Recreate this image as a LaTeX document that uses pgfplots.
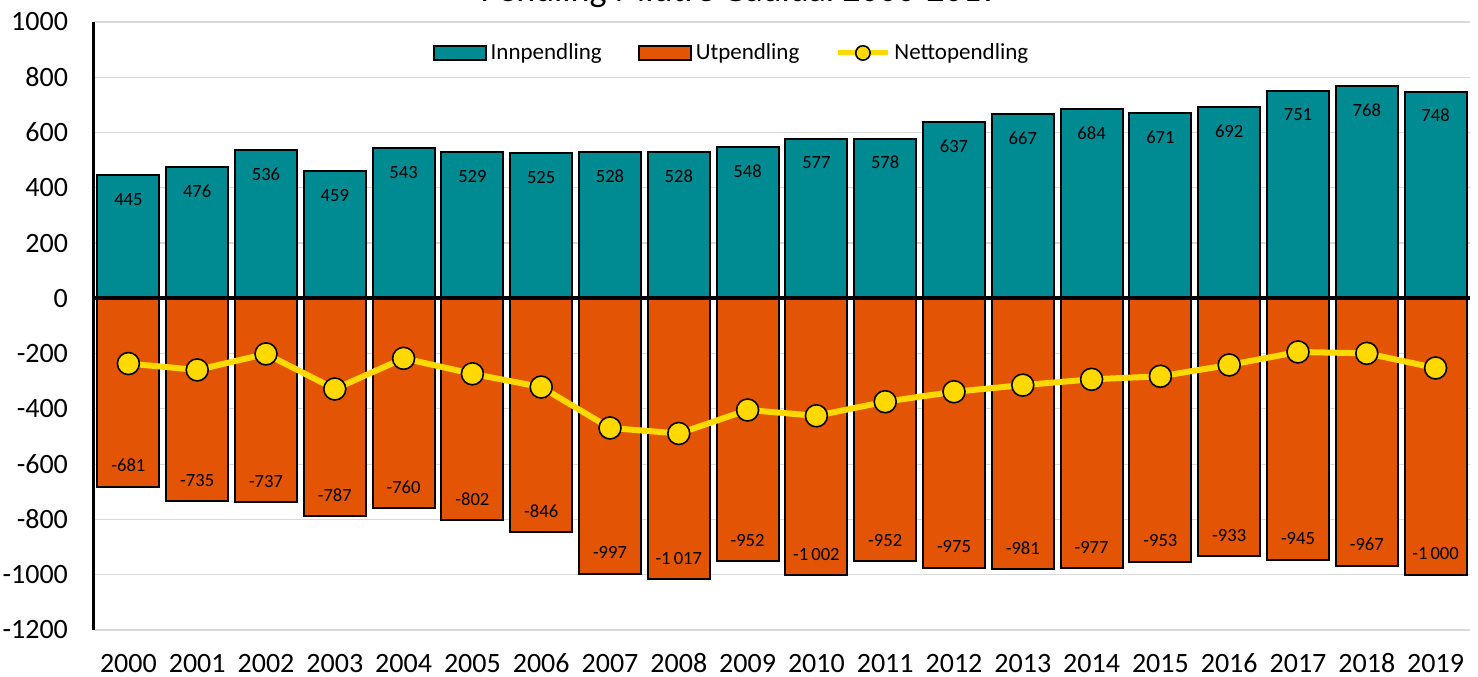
\documentclass[border=0pt]{standalone}
\usepackage{fontspec}
\setmainfont{Carlito}
\usepackage{pgfplots}
\pgfplotsset{compat=1.18}
\usetikzlibrary{calc}
\definecolor{innteal}{RGB}{0,138,145}
\definecolor{utorange}{RGB}{228,84,5}
\definecolor{nettoyellow}{RGB}{255,217,0}
\definecolor{gridgray}{RGB}{217,217,217}

\pgfplotstableread{
x inn ut netto
0 445 -681 -236
1 476 -735 -259
2 536 -737 -201
3 459 -787 -328
4 543 -760 -217
5 529 -802 -273
6 525 -846 -321
7 528 -997 -469
8 528 -1017 -489
9 548 -952 -404
10 577 -1002 -425
11 578 -952 -374
12 637 -975 -338
13 667 -981 -314
14 684 -977 -293
15 671 -953 -282
16 692 -933 -241
17 751 -945 -194
18 768 -967 -199
19 748 -1000 -252
}\pendling

\begin{document}
\begin{tikzpicture}
\begin{axis}[
  name=ax,
  scale only axis,
  width=688pt, height=304pt,
  xmin=-0.5, xmax=19.5,
  ymin=-1200, ymax=1000,
  ytick={-1200,-1000,...,1000},
  xtick=data,
  xticklabels={2000,2001,2002,2003,2004,2005,2006,2007,2008,2009,2010,2011,2012,2013,2014,2015,2016,2017,2018,2019},
  major tick length=0pt,
  separate axis lines,
  axis y line*=left,
  axis x line*=bottom,
  x axis line style={draw=none},
  y axis line style={black, line width=1.5pt, -},
  ymajorgrids, grid style={gridgray, line width=0.6pt},
  ticklabel style={font=\fontsize{14}{16}\selectfont},
  xticklabel style={yshift=-8pt, text height=9.5pt, text depth=0pt},
  yticklabel style={xshift=-9.5pt, /pgf/number format/1000 sep={}},
  /pgf/number format/assume math mode=true,
  /pgf/number format/1000 sep={\,},
  ybar, bar width=0.9,
  legend style={draw=none, fill=none, at={(0.464,0.949)}, anchor=center,
    font=\fontsize{11.5}{13}\selectfont, legend columns=3,
    /tikz/every even column/.append style={column sep=16pt}},
  legend cell align=left,
]
\addplot[bar shift=0pt, fill=innteal, draw=black, line width=1pt,
  nodes near coords,
  every node near coord/.style={anchor=center, yshift=-12pt, font=\fontsize{9.3}{11}\selectfont, black},
  legend image code/.code={\draw[fill=innteal, draw=black, line width=1pt] (0pt,-3.5pt) rectangle (26pt,3.5pt);}]
  table[x=x, y=inn] {\pendling};
\addlegendentry{Innpendling}
\addplot[bar shift=0pt, fill=utorange, draw=black, line width=1pt,
  nodes near coords,
  every node near coord/.style={anchor=center, yshift=10.5pt, font=\fontsize{9.3}{11}\selectfont, black},
  legend image code/.code={\draw[fill=utorange, draw=black, line width=1pt] (0pt,-3.5pt) rectangle (26pt,3.5pt);}]
  table[x=x, y=ut] {\pendling};
\addlegendentry{Utpendling}
\addplot[black, line width=2pt, sharp plot, forget plot] coordinates {(-0.5,0) (19.5,0)};
\addplot[sharp plot, nettoyellow, line width=3pt, mark=*, mark size=5.5pt,
  mark options={fill=nettoyellow, draw=black, line width=0.8pt},
  legend image code/.code={\draw[nettoyellow, line width=2.5pt] (0pt,0pt) -- (25pt,0pt);
    \draw[fill=nettoyellow, draw=black, line width=0.8pt] (12.5pt,0pt) circle (3.6pt);}]
  table[x=x, y=netto] {\pendling};
\addlegendentry{Nettopendling}
\end{axis}
\node[anchor=base, font=\fontsize{18}{20}\selectfont] at ($(ax.north west)+(323pt,10pt)$) {Pendling Midtre Gauldal 2000-2019};
\pgfresetboundingbox
\path[use as bounding box] ($(ax.south west)+(-47pt,-23.5pt)$) rectangle ($(ax.north east)+(4pt,11pt)$);
\end{tikzpicture}
\end{document}
